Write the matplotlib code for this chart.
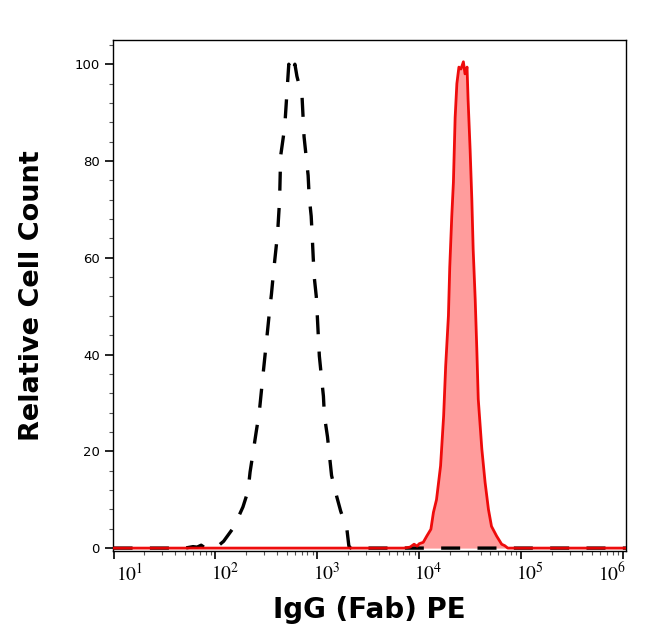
import numpy as np
import matplotlib
matplotlib.use("Agg")
import matplotlib.pyplot as plt
from matplotlib.ticker import LogLocator, MultipleLocator, NullFormatter, FixedLocator
import matplotlib.transforms as mtransforms

# ---- data (log10 of intensity, relative count) ----
iso_log = [1.00, 1.70, 1.78, 1.82, 1.86, 1.88, 1.92, 2.00, 2.08, 2.18, 2.27, 2.32, 2.34, 2.37,
           2.40, 2.43, 2.45, 2.47, 2.49, 2.51, 2.53, 2.55, 2.57, 2.59, 2.61, 2.63,
           2.64, 2.68, 2.70, 2.72, 2.75, 2.78, 2.80, 2.85, 2.87, 2.89, 2.91, 2.92,
           2.94, 2.95, 2.96, 2.97, 2.99, 3.00, 3.01, 3.02, 3.04, 3.06, 3.07, 3.10,
           3.12, 3.14, 3.19, 3.23, 3.29, 3.31, 3.33, 6.05]
iso_val = [0.0, 0.0, 0.3, 0.2, 0.6, 0.3, 0.0, 0.0, 1.4, 4.3, 8.5, 11.8, 15.7, 19.8,
           24.0, 28.0, 32.2, 36.4, 40.5, 44.6, 48.8, 52.5, 57.0, 61.0, 65.0, 72.0,
           81.0, 87.0, 93.5, 100.0, 98.0, 100.0, 97.5, 93.4, 85.0, 81.0, 77.0, 72.7,
           68.6, 64.5, 60.0, 56.0, 52.0, 48.0, 43.8, 39.7, 35.5, 31.4, 27.3, 23.0,
           19.0, 15.0, 10.7, 7.6, 4.0, 0.4, 0.0, 0.0]

stain_log = [1.00, 3.85, 3.91, 3.95, 3.98, 4.00, 4.04, 4.075, 4.115, 4.14, 4.17, 4.21,
             4.24, 4.26, 4.287, 4.30, 4.32, 4.336, 4.353, 4.37, 4.39, 4.41, 4.434,
             4.45, 4.47, 4.48, 4.50, 4.517, 4.53, 4.55, 4.566, 4.58, 4.615,
             4.647, 4.68, 4.71, 4.76, 4.81, 4.84, 4.87, 6.05]
stain_val = [0.0, 0.0, 0.2, 0.8, 0.4, 0.9, 1.2, 2.5, 3.9, 7.4, 10.0, 17.0,
             27.3, 37.6, 48.0, 58.0, 68.6, 75.6, 89.0, 96.0, 99.4, 99.0, 100.5,
             98.0, 99.4, 92.8, 82.4, 72.0, 61.8, 51.4, 41.0, 30.8, 20.5,
             13.6, 8.0, 4.5, 2.5, 0.8, 0.5, 0.0, 0.0]

y_ticks = [0, 20, 40, 60, 80, 100]
x_ticks = [1e1, 1e2, 1e3, 1e4, 1e5, 1e6]
x_labels = [r"$10^{1}$", r"$10^{2}$", r"$10^{3}$", r"$10^{4}$", r"$10^{5}$", r"$10^{6}$"]

plt.rcParams['mathtext.fontset'] = 'stix'

fig = plt.figure(figsize=(6.46, 6.41), dpi=100)
ax = fig.add_axes([0.175, 0.1404, 0.794, 0.7972])

xi = np.power(10.0, iso_log)
xs = np.power(10.0, stain_log)

ax.fill_between(xs, 0, stain_val, color='#ff9c9c', linewidth=0, zorder=1)
ln, = ax.plot(xi, iso_val, color='black', linewidth=2.4, zorder=2)
ln.set_dashes([5.7, 5.2])
ax.plot(xs, stain_val, color='#ee0000', linewidth=2.0, zorder=3, alpha=0.95)

ax.set_xscale('log')
ax.set_xlim(10 ** 0.995, 10 ** 6.03)
ax.set_ylim(-0.6, 105)

ax.yaxis.set_major_locator(FixedLocator(y_ticks))
ax.yaxis.set_minor_locator(MultipleLocator(4))
ax.set_yticklabels([str(v) for v in y_ticks], fontsize=9.5, family='DejaVu Sans')

ax.xaxis.set_major_locator(FixedLocator(x_ticks))
ax.xaxis.set_minor_locator(LogLocator(base=10, subs=np.arange(2, 10), numticks=20))
ax.xaxis.set_minor_formatter(NullFormatter())
ax.set_xticklabels(x_labels, fontsize=14)

ax.tick_params(axis='both', which='major', direction='out', length=6, width=1.2, color='black')
ax.tick_params(axis='both', which='minor', direction='out', length=3, width=0.8, color='#555555')
ax.tick_params(axis='x', which='major', pad=2)

offsets = [16, 10, 9, 9, 9, -11]
for lab, dx in zip(ax.get_xticklabels(), offsets):
    lab.set_transform(lab.get_transform() + mtransforms.ScaledTranslation(dx / 100.0, 0, fig.dpi_scale_trans))

for s in ax.spines.values():
    s.set_linewidth(1.0)
    s.set_color('black')

ax.set_xlabel('IgG (Fab) PE', fontsize=20, fontweight='bold', labelpad=8)
ax.set_ylabel('Relative Cell Count', fontsize=19.5, fontweight='bold', labelpad=21)

fig.savefig('out.png', dpi=100)
